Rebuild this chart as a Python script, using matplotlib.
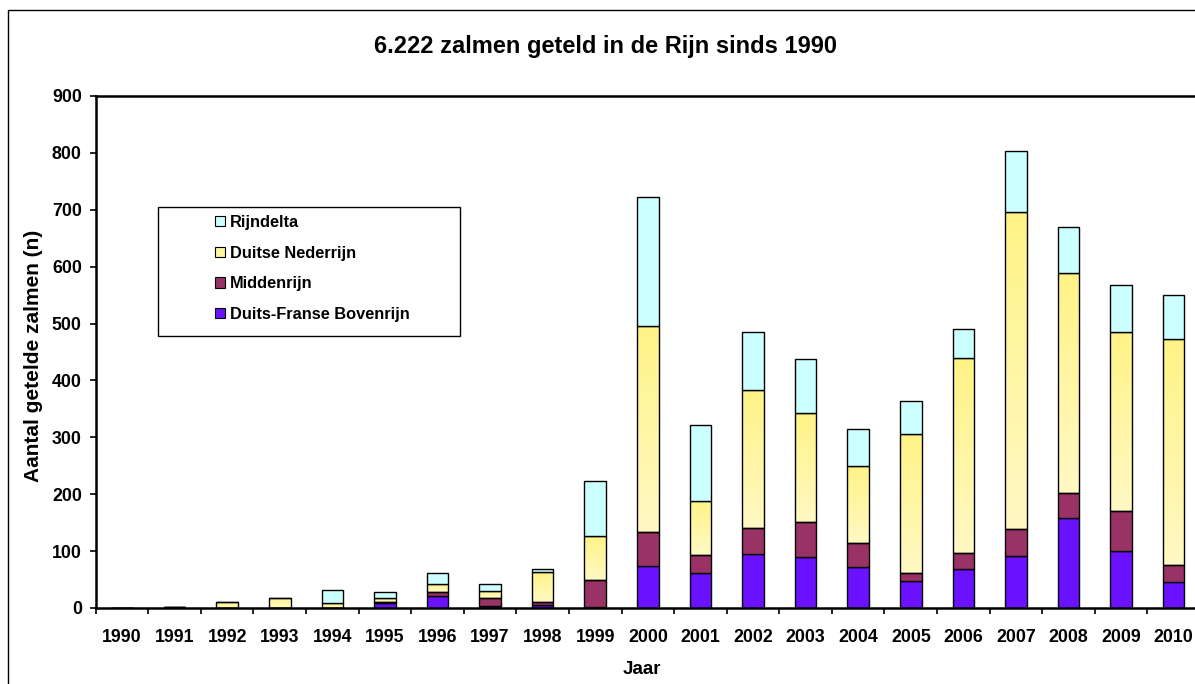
import numpy as np
import matplotlib
matplotlib.use("Agg")
import matplotlib.pyplot as plt
from matplotlib.patches import Patch, Rectangle
from matplotlib.colors import LinearSegmentedColormap

plt.rcParams['font.family'] = ['Liberation Sans', 'DejaVu Sans']
plt.rcParams['font.weight'] = 'bold'

years = [str(y) for y in range(1990, 2011)]
bovenrijn = [0, 0, 0, 0, 0, 8, 21, 4, 5, 2, 74, 62, 95, 90, 72, 48, 68, 92, 158, 101, 46]
middenrijn = [0, 1, 0, 0, 0, 3, 7, 13, 6, 48, 59, 31, 46, 62, 42, 13, 29, 47, 45, 70, 29]
nederrijn = [0, 1, 10, 18, 8, 7, 15, 13, 52, 76, 363, 95, 242, 191, 135, 244, 342, 557, 386, 315, 397]
rijndelta = [0, 0, 0, 0, 23, 10, 18, 13, 5, 98, 226, 133, 102, 95, 65, 59, 51, 108, 80, 82, 78]

title = "6.222 zalmen geteld in de Rijn sinds 1990"
ylabel = "Aantal getelde zalmen (n)"
xlabel = "Jaar"
labels = ["Rijndelta", "Duitse Nederrijn", "Middenrijn", "Duits-Franse Bovenrijn"]

c_purple = "#6A12FF"
c_maroon = "#993366"
c_yellow = "#FFF59E"
c_cyan = "#CCFFFF"

W, H = 1195, 684
fig = plt.figure(figsize=(W / 100, H / 100), dpi=100)
ax_left, ax_right, ax_top, ax_bottom = 95.7, 1200.0, 96.0, 608.0
ax = fig.add_axes([ax_left / W, 1 - ax_bottom / H, (ax_right - ax_left) / W, (ax_bottom - ax_top) / H])

x = np.arange(len(years))
width = 0.41
lw = 1.0
b1 = np.array(bovenrijn)
b2 = b1 + np.array(middenrijn)
b3 = b2 + np.array(nederrijn)

ax.bar(x, bovenrijn, width, color=c_purple, edgecolor='black', linewidth=lw, zorder=2)
ax.bar(x, middenrijn, width, bottom=b1, color=c_maroon, edgecolor='black', linewidth=lw, zorder=2)
ybars = ax.bar(x, nederrijn, width, bottom=b2, facecolor='none', edgecolor='black', linewidth=lw, zorder=2)
ax.bar(x, rijndelta, width, bottom=b3, color=c_cyan, edgecolor='black', linewidth=lw, zorder=2)

cmap = LinearSegmentedColormap.from_list("yel", ["#FFF9C4", "#FFF386"])
grad = np.linspace(0, 1, 256).reshape(-1, 1)
for p in ybars:
    h = p.get_height()
    if h <= 0:
        continue
    x0 = p.get_x()
    y0 = p.get_y()
    im = ax.imshow(grad, extent=[x0, x0 + p.get_width(), y0, y0 + h], origin='lower',
                   aspect='auto', cmap=cmap, zorder=1.5, interpolation='bilinear')
    im.set_clip_path(p)

ax.set_xlim(-0.5, len(years) - 0.5)
ax.set_ylim(0, 900)
ax.set_yticks(np.arange(0, 901, 100))
ax.set_xticks(x)
ax.set_xticklabels(years)
ax.set_xticks(np.arange(-0.5, len(years), 1.0), minor=True)
ax.tick_params(axis='x', which='major', length=0, pad=15, labelsize=12.8)
ax.tick_params(axis='x', which='minor', length=4, width=1.2, direction='out')
ax.tick_params(axis='y', which='major', length=4, width=1.2, direction='out', pad=6, labelsize=12.8)
for lab in ax.get_xticklabels() + ax.get_yticklabels():
    lab.set_fontweight('bold')

for s in ['left', 'bottom', 'top']:
    ax.spines[s].set_linewidth(1.8)
    ax.spines[s].set_color('black')
ax.spines['right'].set_visible(False)

# legend frame + entries
lx0 = (158 - ax_left) / (ax_right - ax_left)
lx1 = (460 - ax_left) / (ax_right - ax_left)
ly1 = (ax_bottom - 207) / (ax_bottom - ax_top)
ly0 = (ax_bottom - 336) / (ax_bottom - ax_top)
ax.add_patch(Rectangle((lx0, ly0), lx1 - lx0, ly1 - ly0, transform=ax.transAxes,
                       facecolor='white', edgecolor='black', linewidth=1.0, zorder=3))
handles = [Patch(facecolor=c_cyan, edgecolor='black', linewidth=0.8),
           Patch(facecolor=c_yellow, edgecolor='black', linewidth=0.8),
           Patch(facecolor=c_maroon, edgecolor='black', linewidth=0.8),
           Patch(facecolor=c_purple, edgecolor='black', linewidth=0.8)]
hx = (215 - ax_left) / (ax_right - ax_left)
hy = (ax_bottom - 215) / (ax_bottom - ax_top)
leg = ax.legend(handles, labels, loc='upper left', bbox_to_anchor=(hx, hy),
                frameon=False, prop={'size': 11.8, 'weight': 'bold'},
                handlelength=0.6, handleheight=0.6, handletextpad=0.3,
                labelspacing=0.95, borderpad=0, borderaxespad=0)
leg.set_zorder(4)

fig.text(605 / W, 1 - 47 / H, title, ha='center', va='center', fontsize=17, fontweight='bold')
fig.text(34 / W, 1 - 356 / H, ylabel, ha='center', va='center', rotation=90, fontsize=15, fontweight='bold')
fig.text(642 / W, 1 - 669 / H, xlabel, ha='center', va='center', fontsize=13.5, fontweight='bold')

fig.add_artist(Rectangle((8 / W, -0.1), 1.2, 1 - 10 / H + 0.1, transform=fig.transFigure,
                         fill=False, edgecolor='black', linewidth=1.0))

fig.savefig("out.png", dpi=100)
